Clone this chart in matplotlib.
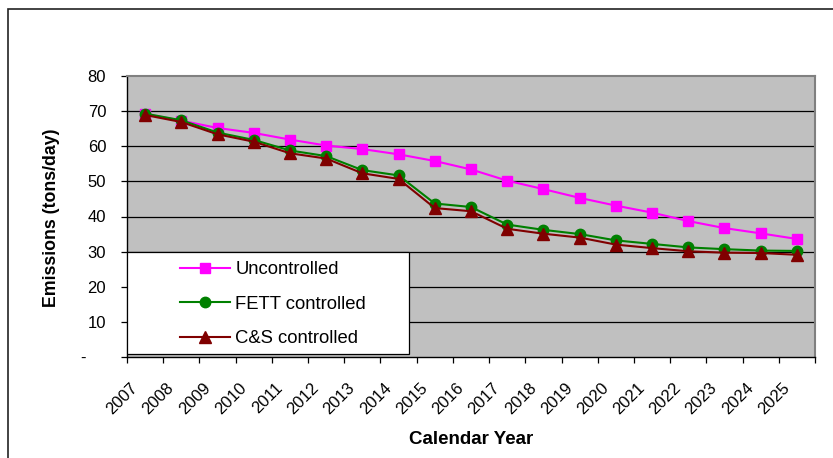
import matplotlib
matplotlib.use("Agg")
import matplotlib.pyplot as plt
import matplotlib.transforms as mtransforms
from matplotlib.patches import Rectangle
import numpy as np

plt.rcParams['font.family'] = ['Liberation Sans', 'DejaVu Sans']

years = [str(y) for y in range(2007, 2026)]
uncontrolled = [69.2, 67.3, 65.2, 63.8, 61.9, 60.2, 59.2, 57.7, 55.8, 53.4,
                50.2, 47.8, 45.3, 43.1, 41.1, 38.7, 36.7, 35.2, 33.6]
fett = [69.3, 67.4, 63.9, 61.8, 58.8, 57.2, 53.2, 51.7, 43.7, 42.7,
        37.7, 36.2, 35.0, 33.2, 32.2, 31.2, 30.7, 30.3, 30.2]
cs = [68.9, 66.9, 63.4, 61.3, 58.0, 56.5, 52.3, 50.7, 42.4, 41.5,
      36.5, 35.1, 34.0, 32.0, 31.0, 30.1, 29.7, 29.6, 29.1]
yticks = [0, 10, 20, 30, 40, 50, 60, 70, 80]
ytick_labels = ['-'] + [str(v) for v in yticks[1:]]

W, H = 833, 458
fig = plt.figure(figsize=(W / 100, H / 100), dpi=100)

# outer chart border
fig.patches.append(Rectangle((8 / W, -0.05), 1.2, 1 - 9 / H + 0.05,
                             transform=fig.transFigure, fill=False,
                             edgecolor='#222222', linewidth=1.2, zorder=0))

left, right, top, bottom = 127, 815, 76, 357
ax = fig.add_axes([left / W, 1 - bottom / H, (right - left) / W, (bottom - top) / H])
ax.set_facecolor('#C0C0C0')

n = len(years)
x = np.arange(n) + 0.5
ax.set_xlim(0, n)
ax.set_ylim(0, 80)

ax.plot(x, uncontrolled, color='#FF00FF', marker='s', markersize=7.5, lw=1.5,
        label='Uncontrolled', zorder=3)
ax.plot(x, fett, color='#008000', marker='o', markersize=7.5, lw=1.5,
        label='FETT controlled', zorder=3)
ax.plot(x, cs, color='#800000', marker='^', markersize=9, lw=1.5,
        label='C&S controlled', zorder=3)

# gridlines
for v in yticks[1:-1]:
    ax.axhline(v, color='black', lw=0.9, zorder=1)

# spines
for s in ['left', 'bottom']:
    ax.spines[s].set_color('black')
    ax.spines[s].set_linewidth(1.0)
for s in ['top', 'right']:
    ax.spines[s].set_color('#808080')
    ax.spines[s].set_linewidth(1.5)

# y axis
ax.set_yticks(yticks)
ax.set_yticklabels(ytick_labels)
ax.tick_params(axis='y', direction='out', length=4, width=0.9, pad=11, labelsize=12)
dash_label = ax.get_yticklabels()[0]
dash_label.set_transform(dash_label.get_transform() +
                         mtransforms.ScaledTranslation(-20 / 100, 0, fig.dpi_scale_trans))

# x axis: ticks at category boundaries, labels at category centers
ax.set_xticks(np.arange(n + 1))
ax.set_xticklabels([])
ax.tick_params(axis='x', which='major', direction='out', length=4, width=0.9)
ax.set_xticks(x, minor=True)
ax.set_xticklabels(years, minor=True, rotation=45, ha='right', va='top',
                   rotation_mode='anchor', fontsize=12)
ax.tick_params(axis='x', which='minor', length=0, pad=16.5)
offset = mtransforms.ScaledTranslation(-15 / 100, 0, fig.dpi_scale_trans)
for lbl in ax.get_xticklabels(minor=True):
    lbl.set_transform(lbl.get_transform() + offset)

fig.text(471 / W, 1 - 440 / H, 'Calendar Year', ha='center', va='center',
         fontsize=13.5, fontweight='bold')
fig.text(52 / W, 1 - 218 / H, 'Emissions (tons/day)', ha='center', va='center',
         rotation=90, fontsize=12.8, fontweight='bold')

# legend box
bx0, bx1, by0, by1 = 127, 409, 252, 354
ax.add_patch(Rectangle(((bx0 - left) / (right - left), (bottom - by1) / (bottom - top)),
                       (bx1 - bx0) / (right - left), (by1 - by0) / (bottom - top),
                       transform=ax.transAxes, facecolor='white', edgecolor='black',
                       linewidth=0.9, zorder=4))
leg = ax.legend(loc='upper left',
                bbox_to_anchor=((180 - left) / (right - left), (bottom - 261) / (bottom - top)),
                frameon=False, fontsize=13.3, handlelength=2.7, handletextpad=0.3,
                labelspacing=0.95, borderpad=0, borderaxespad=0)
leg.set_zorder(5)

fig.savefig('out.png', dpi=100)
